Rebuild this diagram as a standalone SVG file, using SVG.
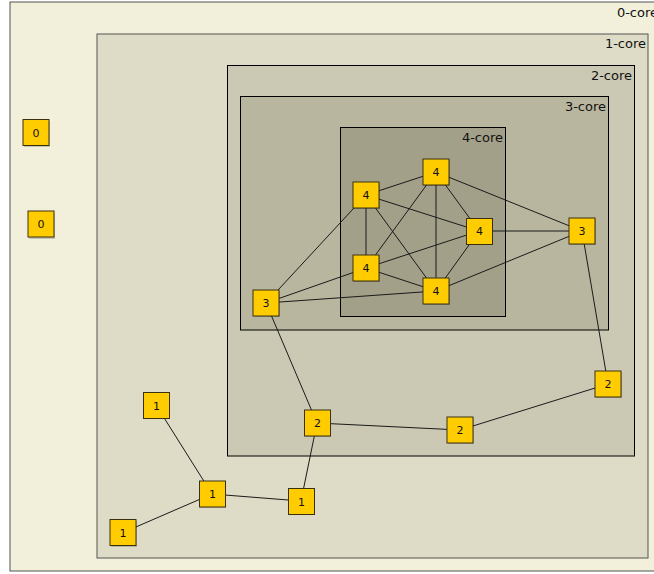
<svg xmlns="http://www.w3.org/2000/svg" width="654" height="574" viewBox="0 0 654 574">
<style>
.core{stroke:#000;stroke-width:1}
.clabel{font-family:"DejaVu Sans",sans-serif;font-size:13px;fill:#111;text-anchor:end}
.node rect.b{fill:#ffcc00;stroke:#3a3010;stroke-width:1}
.node rect.s{fill:#000;opacity:0.18}
.node text{font-family:"DejaVu Sans",sans-serif;font-size:11px;fill:#111;text-anchor:middle}
#edges line{stroke:#1a1a1a;stroke-width:1}
</style>
<rect x="0" y="0" width="654" height="574" fill="#ffffff"/>
<g id="core0"><rect x="10" y="2" width="660" height="569" fill="#f2efda" stroke="#555" stroke-width="1"/><text class="clabel" x="658" y="17">0-core</text></g>
<g id="core1"><rect x="97" y="34" width="551" height="524" fill="#dedcc6" stroke="#555" stroke-width="1"/><text class="clabel" x="646" y="48">1-core</text></g>
<g id="core2"><rect class="core" x="227.5" y="65.5" width="407" height="390.5" fill="#cbc9b3"/><text class="clabel" x="632" y="80">2-core</text></g>
<g id="core3"><rect class="core" x="240.5" y="96.5" width="368" height="233.5" fill="#b8b69f"/><text class="clabel" x="606" y="111">3-core</text></g>
<g id="core4"><rect class="core" x="340.5" y="127.5" width="165" height="189" fill="#a2a089"/><text class="clabel" x="503" y="142">4-core</text></g>
<g id="edges">
<line x1="366" y1="195" x2="436" y2="172"/>
<line x1="366" y1="195" x2="479" y2="231"/>
<line x1="366" y1="195" x2="366" y2="268"/>
<line x1="366" y1="195" x2="436" y2="291"/>
<line x1="436" y1="172" x2="479" y2="231"/>
<line x1="436" y1="172" x2="366" y2="268"/>
<line x1="436" y1="172" x2="436" y2="291"/>
<line x1="436" y1="172" x2="582" y2="231"/>
<line x1="479" y1="231" x2="582" y2="231"/>
<line x1="479" y1="231" x2="366" y2="268"/>
<line x1="479" y1="231" x2="436" y2="291"/>
<line x1="366" y1="268" x2="436" y2="291"/>
<line x1="436" y1="291" x2="582" y2="231"/>
<line x1="266" y1="303" x2="366" y2="195"/>
<line x1="266" y1="303" x2="366" y2="268"/>
<line x1="266" y1="303" x2="436" y2="291"/>
<line x1="582" y1="231" x2="608" y2="384"/>
<line x1="266" y1="303" x2="317" y2="423"/>
<line x1="317" y1="423" x2="460" y2="430"/>
<line x1="460" y1="430" x2="608" y2="384"/>
<line x1="317" y1="423" x2="301" y2="501"/>
<line x1="301" y1="501" x2="212" y2="494"/>
<line x1="212" y1="494" x2="156" y2="405"/>
<line x1="212" y1="494" x2="122" y2="533"/>
</g>
<g id="n0a" class="node"><rect class="s" x="24" y="121" width="26" height="26"/><rect class="b" x="23" y="119.5" width="26" height="26"/><text x="36" y="136.5">0</text></g>
<g id="n0b" class="node"><rect class="s" x="29" y="213" width="26" height="26"/><rect class="b" x="28" y="211" width="26" height="26"/><text x="41" y="228">0</text></g>
<g id="n4a" class="node"><rect class="s" x="354" y="183" width="26" height="26"/><rect class="b" x="353" y="182" width="26" height="26"/><text x="366" y="199">4</text></g>
<g id="n4b" class="node"><rect class="s" x="424" y="160" width="26" height="26"/><rect class="b" x="423" y="159" width="26" height="26"/><text x="436" y="176">4</text></g>
<g id="n4c" class="node"><rect class="s" x="467" y="219" width="26" height="26"/><rect class="b" x="466.5" y="218.5" width="26" height="26"/><text x="479.5" y="235">4</text></g>
<g id="n4d" class="node"><rect class="s" x="354" y="256" width="26" height="26"/><rect class="b" x="353" y="255" width="26" height="26"/><text x="366" y="272">4</text></g>
<g id="n4e" class="node"><rect class="s" x="424" y="279" width="26" height="26"/><rect class="b" x="423" y="278" width="26" height="26"/><text x="436" y="295">4</text></g>
<g id="n3a" class="node"><rect class="s" x="570" y="219" width="26" height="26"/><rect class="b" x="569" y="218" width="26" height="26"/><text x="582" y="235">3</text></g>
<g id="n3b" class="node"><rect class="s" x="254" y="291" width="26" height="26"/><rect class="b" x="253" y="290" width="26" height="26"/><text x="266" y="307">3</text></g>
<g id="n2a" class="node"><rect class="s" x="596" y="372" width="26" height="26"/><rect class="b" x="595" y="371" width="26" height="26"/><text x="608" y="388">2</text></g>
<g id="n2b" class="node"><rect class="s" x="305" y="411" width="26" height="26"/><rect class="b" x="304.5" y="410" width="26" height="26"/><text x="317.5" y="427">2</text></g>
<g id="n2c" class="node"><rect class="s" x="448" y="418" width="26" height="26"/><rect class="b" x="447" y="417" width="26" height="26"/><text x="460" y="434">2</text></g>
<g id="n1a" class="node"><rect class="s" x="144" y="393" width="26" height="26"/><rect class="b" x="143.5" y="392.5" width="26" height="26"/><text x="156.5" y="409.5">1</text></g>
<g id="n1b" class="node"><rect class="s" x="200" y="482" width="26" height="26"/><rect class="b" x="199.5" y="481" width="26" height="26"/><text x="212.5" y="498">1</text></g>
<g id="n1c" class="node"><rect class="s" x="289" y="489" width="26" height="26"/><rect class="b" x="288.5" y="488.5" width="26" height="26"/><text x="301.5" y="505.5">1</text></g>
<g id="n1d" class="node"><rect class="s" x="111" y="521" width="26" height="26"/><rect class="b" x="110" y="519.5" width="26" height="26"/><text x="123" y="536.5">1</text></g>
</svg>
